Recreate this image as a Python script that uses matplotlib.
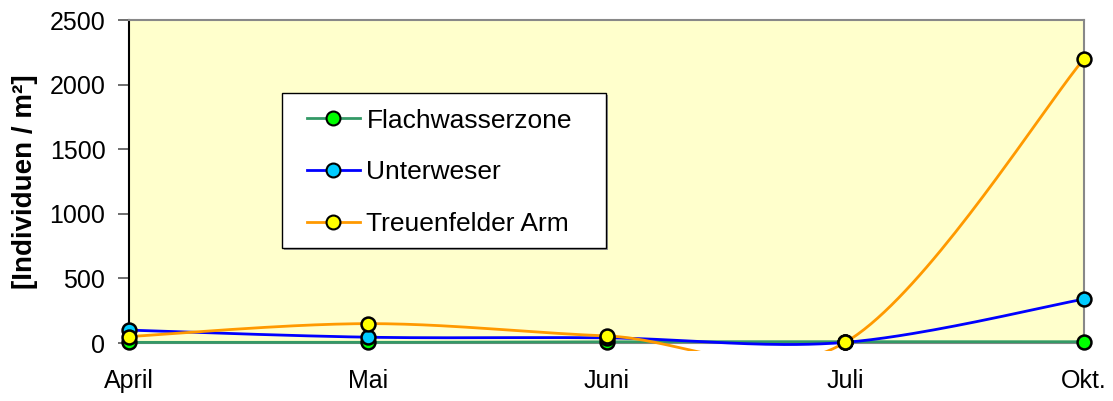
import matplotlib.pyplot as plt
from matplotlib.patches import Rectangle
import numpy as np

plt.rcParams['font.family'] = ['Liberation Sans', 'DejaVu Sans']

months = ['April', 'Mai', 'Juni', 'Juli', 'Okt.']
flachwasser = [5, 5, 10, 10, 10]
unterweser = [100, 45, 40, 5, 340]
treuenfelder = [50, 150, 55, 5, 2200]

series = [
    ('Flachwasserzone', flachwasser, '#339966', '#00ff00'),
    ('Unterweser', unterweser, '#0000ff', '#00ccff'),
    ('Treuenfelder Arm', treuenfelder, '#ff9900', '#ffff00'),
]


def smooth(y, n=40):
    # excel-ish smoothed line: cubic bezier with catmull-rom control points
    x = np.arange(len(y), dtype=float)
    y = np.asarray(y, dtype=float)
    px = np.concatenate([[x[0]], x, [x[-1]]])
    py = np.concatenate([[y[0]], y, [y[-1]]])
    xs, ys = [], []
    t = np.linspace(0, 1, n)
    for i in range(len(y) - 1):
        p0 = np.array([px[i + 1], py[i + 1]])
        p3 = np.array([px[i + 2], py[i + 2]])
        c1 = p0 + (np.array([px[i + 2], py[i + 2]]) - np.array([px[i], py[i]])) / 6
        c2 = p3 - (np.array([px[i + 3], py[i + 3]]) - np.array([px[i + 1], py[i + 1]])) / 6
        b = ((1 - t) ** 3)[:, None] * p0 + (3 * (1 - t) ** 2 * t)[:, None] * c1 \
            + (3 * (1 - t) * t ** 2)[:, None] * c2 + (t ** 3)[:, None] * p3
        xs.extend(b[:, 0])
        ys.extend(b[:, 1])
    return np.array(xs), np.array(ys)


fig = plt.figure(figsize=(11.13, 4.01), dpi=100)
ax = fig.add_axes([0.1159, 0.1446, 0.8581, 0.8055])
ax.set_facecolor('#ffffcc')

clip = Rectangle((0, -0.025), 1, 1.025, transform=ax.transAxes, visible=False)
ax.add_patch(clip)

for label, vals, lc, mc in series:
    sx, sy = smooth(vals)
    ln, = ax.plot(sx, sy, color=lc, lw=2, zorder=3)
    ln.set_clip_path(clip)
    ax.plot(range(len(vals)), vals, ls='none', marker='o', ms=10, mfc=mc,
            mec='black', mew=1.8, clip_on=False, zorder=4)
    ax.plot([], [], color=lc, lw=2, marker='o', ms=10, mfc=mc, mec='black',
            mew=1.5, label=label)

ax.set_xlim(0, len(months) - 1)
ax.set_ylim(0, 2500)
ax.set_xticks(range(len(months)))
ax.set_xticklabels(months)
ax.set_yticks(np.arange(0, 2501, 500))
ax.tick_params(axis='both', labelsize=18, direction='out', colors='#555555',
               labelcolor='black')
ax.tick_params(axis='y', length=8, width=1.2, pad=9)
ax.tick_params(axis='x', length=4, pad=15)

ax.spines['left'].set_color('black')
ax.spines['left'].set_linewidth(1.5)
for s in ['top', 'right', 'bottom']:
    ax.spines[s].set_color('#888888')
    ax.spines[s].set_linewidth(1.5)

ax.set_ylabel('[Individuen / m²]', fontsize=20, fontweight='bold', labelpad=8)

# legend box drawn by hand (Excel style, with light shadow)
ax.add_patch(Rectangle((0.1623, 0.288), 0.3393, 0.48, transform=ax.transAxes,
                       facecolor='#999999', edgecolor='none', zorder=5))
ax.add_patch(Rectangle((0.1602, 0.294), 0.3393, 0.48, transform=ax.transAxes,
                       facecolor='white', edgecolor='black', lw=1.0, zorder=5))
leg = ax.legend(loc='upper left', bbox_to_anchor=(0.1864, 0.726), fontsize=19,
                frameon=False, borderpad=0, labelspacing=1.05, handlelength=2.0,
                handletextpad=0.25, borderaxespad=0)
leg.set_zorder(6)

fig.savefig('out.png', dpi=100)
